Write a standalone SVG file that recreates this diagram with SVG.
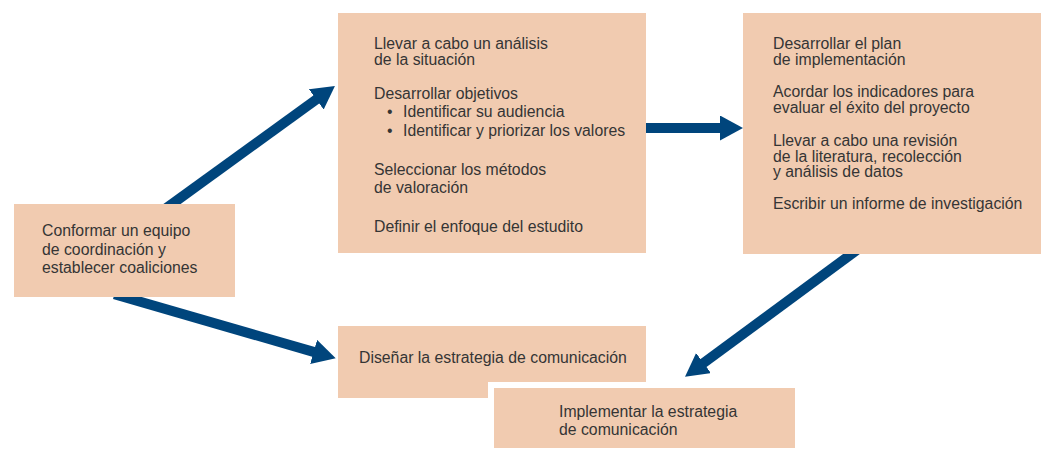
<svg xmlns="http://www.w3.org/2000/svg" width="1041" height="449" viewBox="0 0 1041 449">
<defs>
<style>
.box{fill:#f1cbb0}
.t{font-family:"Liberation Sans",Arial,sans-serif;font-size:15.8px;fill:#353535}
.c{stroke:#00457c;stroke-width:10;fill:none}
</style>
<marker id="ah" markerUnits="userSpaceOnUse" markerWidth="24" markerHeight="26" refX="8" refY="12.5" orient="auto" viewBox="0 0 24 26">
<path d="M0,0 L23,12.5 L0,25 Z" fill="#00457c"/>
</marker>
</defs>
<rect width="1041" height="449" fill="#ffffff"/>
<g id="connectors">
<line class="c" x1="163.9" y1="209.9" x2="322.8" y2="94.8" marker-end="url(#ah)"/>
<line class="c" x1="114.4" y1="294.2" x2="321.3" y2="354.1" marker-end="url(#ah)"/>
<line class="c" x1="640" y1="128" x2="728" y2="128" marker-end="url(#ah)"/>
<line class="c" x1="859.5" y1="248.1" x2="697.1" y2="367.8" marker-end="url(#ah)"/>
</g>
<g id="n1">
<rect class="box" x="14" y="204" width="221" height="93"/>
<text class="t" x="42" y="236">Conformar un equipo</text>
<text class="t" x="42" y="255">de coordinación y</text>
<text class="t" x="42" y="273">establecer coaliciones</text>
</g>
<g id="n2">
<rect class="box" x="338" y="13" width="308" height="240"/>
<text class="t" x="374" y="49">Llevar a cabo un análisis</text>
<text class="t" x="374" y="65">de la situación</text>
<text class="t" x="374" y="99">Desarrollar objetivos</text>
<text class="t" x="387" y="117">•</text>
<text class="t" x="403" y="117">Identificar su audiencia</text>
<text class="t" x="387" y="136">•</text>
<text class="t" x="403" y="136">Identificar y priorizar los valores</text>
<text class="t" x="374" y="175">Seleccionar los métodos</text>
<text class="t" x="374" y="193">de valoración</text>
<text class="t" x="374" y="232">Definir el enfoque del estudito</text>
</g>
<g id="n3">
<rect class="box" x="743" y="13" width="298" height="241"/>
<text class="t" x="773" y="49">Desarrollar el plan</text>
<text class="t" x="773" y="65">de implementación</text>
<text class="t" x="773" y="97">Acordar los indicadores para</text>
<text class="t" x="773" y="113">evaluar el éxito del proyecto</text>
<text class="t" x="773" y="146">Llevar a cabo una revisión</text>
<text class="t" x="773" y="162">de la literatura, recolección</text>
<text class="t" x="773" y="177">y análisis de datos</text>
<text class="t" x="773" y="209">Escribir un informe de investigación</text>
</g>
<g id="n4">
<rect class="box" x="338" y="326" width="308" height="72"/>
<text class="t" x="359" y="363">Diseñar la estrategia de comunicación</text>
</g>
<g id="n5">
<rect class="box" x="491" y="385" width="307" height="66" stroke="#ffffff" stroke-width="6"/>
<text class="t" x="559" y="417">Implementar la estrategia</text>
<text class="t" x="559" y="435">de comunicación</text>
</g>
</svg>
